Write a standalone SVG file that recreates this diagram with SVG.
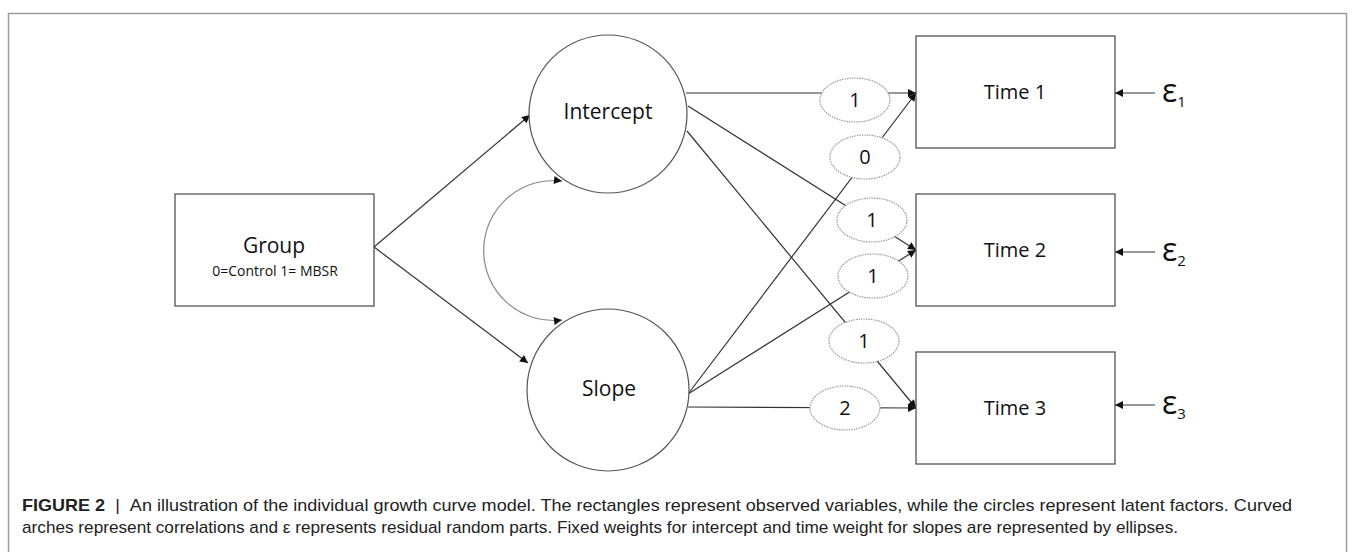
<svg xmlns="http://www.w3.org/2000/svg" width="1354" height="552" viewBox="0 0 1354 552">
<style>
.lbl{font-family:"Open Sans","Noto Sans",sans-serif;fill:#111;text-anchor:middle}
.node{fill:#fff;stroke:#444;stroke-width:1.2}
.circ{fill:#fff;stroke:#555;stroke-width:1.2}
.wt{fill:#fff;stroke:#999;stroke-width:1.2;stroke-dasharray:1.5 1}
.ln{stroke:#333;stroke-width:1.2;fill:none}
.cap{font-family:"Liberation Sans",Arial,sans-serif;font-size:17px;fill:#222}
</style>
<defs>
<marker id="ah" viewBox="0 0 10 10" refX="10" refY="5" markerWidth="10" markerHeight="8" markerUnits="userSpaceOnUse" orient="auto-start-reverse">
<path d="M0,0 L10,5 L0,10 z" fill="#111"/>
</marker>
</defs>
<rect x="8.5" y="13.5" width="1338" height="560" fill="none" stroke="#9a9a9a" stroke-width="1.5"/>
<g id="connectors">
<line class="ln" x1="374" y1="247" x2="530" y2="115" marker-end="url(#ah)"/>
<line class="ln" x1="374" y1="247" x2="528" y2="363" marker-end="url(#ah)"/>
<line class="ln" x1="686" y1="93" x2="916" y2="93" marker-end="url(#ah)"/>
<line class="ln" x1="688" y1="106" x2="916" y2="250" marker-end="url(#ah)"/>
<line class="ln" x1="687" y1="131" x2="916" y2="408" marker-end="url(#ah)"/>
<line class="ln" x1="688" y1="394" x2="916" y2="93" marker-end="url(#ah)"/>
<line class="ln" x1="688" y1="394" x2="916" y2="250" marker-end="url(#ah)"/>
<line class="ln" x1="688" y1="407" x2="916" y2="408" marker-end="url(#ah)"/>
<path d="M562,181 A70,70 0 1 0 562,320" fill="none" stroke="#888" stroke-width="1.2" marker-start="url(#ah)" marker-end="url(#ah)"/>
<line class="ln" x1="1155" y1="93" x2="1115" y2="93" marker-end="url(#ah)"/>
<line class="ln" x1="1155" y1="252" x2="1115" y2="252" marker-end="url(#ah)"/>
<line class="ln" x1="1155" y1="405" x2="1115" y2="405" marker-end="url(#ah)"/>
</g>
<g id="group">
<rect class="node" x="175" y="194" width="199" height="112"/>
<text class="lbl" x="274" y="253" font-size="21">Group</text>
<text class="lbl" x="275" y="276" font-size="14">0=Control 1= MBSR</text>
</g>
<g id="intercept">
<circle class="circ" cx="608" cy="114" r="79"/>
<text class="lbl" x="608" y="119" font-size="21">Intercept</text>
</g>
<g id="slope">
<circle class="circ" cx="608" cy="390" r="81"/>
<text class="lbl" x="609" y="396" font-size="21">Slope</text>
</g>
<g id="time1">
<rect class="node" x="916" y="36" width="199" height="112"/>
<text class="lbl" x="1015" y="99" font-size="20">Time 1</text>
</g>
<g id="time2">
<rect class="node" x="916" y="194" width="199" height="112"/>
<text class="lbl" x="1015" y="257" font-size="20">Time 2</text>
</g>
<g id="time3">
<rect class="node" x="916" y="352" width="199" height="112"/>
<text class="lbl" x="1015" y="415" font-size="20">Time 3</text>
</g>
<g id="weights">
<ellipse class="wt" cx="855" cy="100" rx="35" ry="22"/>
<text class="lbl" x="855" y="107" font-size="20">1</text>
<ellipse class="wt" cx="865" cy="157" rx="35" ry="22"/>
<text class="lbl" x="865" y="164" font-size="20">0</text>
<ellipse class="wt" cx="872" cy="220" rx="35" ry="22"/>
<text class="lbl" x="872" y="227" font-size="20">1</text>
<ellipse class="wt" cx="873" cy="276" rx="35" ry="22"/>
<text class="lbl" x="873" y="283" font-size="20">1</text>
<ellipse class="wt" cx="864" cy="341" rx="35" ry="22"/>
<text class="lbl" x="864" y="348" font-size="20">1</text>
<ellipse class="wt" cx="845" cy="408" rx="35" ry="22"/>
<text class="lbl" x="845" y="415" font-size="20">2</text>
</g>
<g id="residuals" font-family="Open Sans, Noto Sans, sans-serif" fill="#111">
<text x="1162" y="102" font-size="32">ε<tspan font-size="15" dy="5">1</tspan></text>
<text x="1162" y="261" font-size="32">ε<tspan font-size="15" dy="5">2</tspan></text>
<text x="1162" y="414" font-size="32">ε<tspan font-size="15" dy="5">3</tspan></text>
</g>
<g id="caption">
<text class="cap" x="22" y="511" textLength="1270" lengthAdjust="spacingAndGlyphs"><tspan font-weight="bold">FIGURE 2</tspan>&#160;&#160;|&#160;&#160;An illustration of the individual growth curve model. The rectangles represent observed variables, while the circles represent latent factors. Curved</text>
<text class="cap" x="22" y="533" textLength="1156" lengthAdjust="spacingAndGlyphs">arches represent correlations and ε represents residual random parts. Fixed weights for intercept and time weight for slopes are represented by ellipses.</text>
</g>
</svg>
